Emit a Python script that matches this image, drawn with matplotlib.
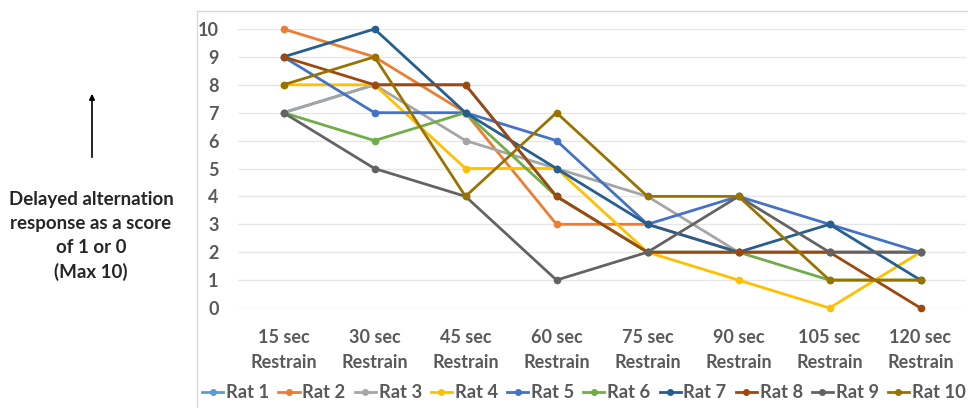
import matplotlib
matplotlib.use("Agg")
import matplotlib.pyplot as plt
from matplotlib.lines import Line2D

plt.rcParams['font.family'] = ['Lato', 'DejaVu Sans']

categories = ["15 sec\nRestrain", "30 sec\nRestrain", "45 sec\nRestrain", "60 sec\nRestrain",
              "75 sec\nRestrain", "90 sec\nRestrain", "105 sec\nRestrain", "120 sec\nRestrain"]
rat1 = [7, 8, 8, 4, 2, 2, 2, 2]
rat2 = [10, 9, 7, 3, 3, 2, 2, 2]
rat3 = [7, 8, 6, 5, 4, 2, 2, 2]
rat4 = [8, 8, 5, 5, 2, 1, 0, 2]
rat5 = [9, 7, 7, 6, 3, 4, 3, 2]
rat6 = [7, 6, 7, 4, 2, 2, 1, 1]
rat7 = [9, 10, 7, 5, 3, 2, 3, 1]
rat8 = [9, 8, 8, 4, 2, 2, 2, 0]
rat9 = [7, 5, 4, 1, 2, 4, 2, 2]
rat10 = [8, 9, 4, 7, 4, 4, 1, 1]
series_names = ["Rat 1", "Rat 2", "Rat 3", "Rat 4", "Rat 5", "Rat 6", "Rat 7", "Rat 8", "Rat 9", "Rat 10"]
series = [rat1, rat2, rat3, rat4, rat5, rat6, rat7, rat8, rat9, rat10]
colors = ["#5B9BD5", "#ED7D31", "#A5A5A5", "#FFC000", "#4472C4", "#70AD47",
          "#255E91", "#9E480E", "#636363", "#997300"]

W, H = 968, 408
fig = plt.figure(figsize=(W / 100, H / 100), dpi=100)
ax = fig.add_axes([238 / W, 1 - 308 / H, (966 - 238) / W, (308 - 29) / H])

x = list(range(len(categories)))
for name, vals, c in zip(series_names, series, colors):
    ax.plot(x, vals, color=c, lw=2, marker='o', ms=4.5, label=name, clip_on=False, zorder=3)

ax.set_xlim(-0.5, len(categories) - 0.5)
ax.set_ylim(0, 10)
ax.set_yticks(range(0, 11))
ax.yaxis.grid(True, color="#E6E6E6", lw=1)
ax.set_axisbelow(True)
for s in ax.spines.values():
    s.set_visible(False)
ax.tick_params(axis='both', length=0, colors="#595959", labelsize=13)
ax.tick_params(axis='y', pad=14)
ax.tick_params(axis='x', pad=15)
ax.set_xticks(x)
ax.set_xticklabels(categories, fontsize=13, linespacing=1.6)
for t in ax.get_yticklabels() + ax.get_xticklabels():
    t.set_fontweight('bold')
    t.set_color("#595959")

# chart frame lines
fig.add_artist(Line2D([197 / W, 197 / W], [0, 1 - 11 / H], color="#D9D9D9", lw=1))
fig.add_artist(Line2D([197 / W, 1], [1 - 11 / H, 1 - 11 / H], color="#D9D9D9", lw=1))

# legend
leg = fig.legend(loc='center', bbox_to_anchor=(584 / W, 1 - 393 / H), ncol=10, frameon=False,
                 fontsize=13.2, handlelength=1.15, handletextpad=0.15, columnspacing=0.5,
                 borderaxespad=0)
for t in leg.get_texts():
    t.set_fontweight('bold')
    t.set_color("#595959")
for h in leg.legend_handles:
    h.set_markersize(4)

# left annotation
fig.text(91 / W, 1 - 236 / H, "Delayed alternation\nresponse as a score\nof 1 or 0\n(Max 10)",
         ha='center', va='center', fontsize=13.5, fontweight='bold', color="#262626", linespacing=1.5)
fig.add_artist(matplotlib.patches.FancyArrowPatch((92 / W, 1 - 160 / H), (92 / W, 1 - 91 / H),
               transform=fig.transFigure, arrowstyle='-|>', mutation_scale=8, color='black', lw=1.2))

fig.savefig("out.png", dpi=100)
